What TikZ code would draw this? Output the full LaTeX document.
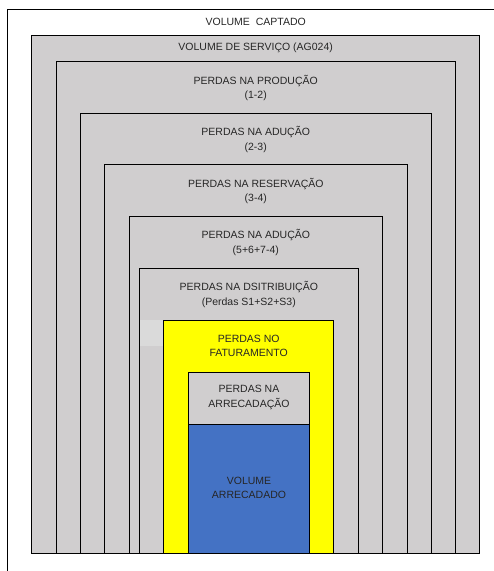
\documentclass[tikz,border=0pt]{standalone}
\usepackage{fontspec}
\setmainfont{Liberation Sans}
\definecolor{boxgray}{RGB}{208,206,207}
\definecolor{patchgray}{RGB}{218,218,218}
\definecolor{faturyellow}{RGB}{255,255,0}
\definecolor{arrecblue}{RGB}{68,114,196}
\tikzset{
	perda/.style={line width=1pt, draw=black, fill=boxgray},
	rotulo/.style={font=\fontsize{10.5}{14.5}\selectfont, align=center, text=black!85, inner sep=0pt},
}

\begin{document}
\begin{tikzpicture}[x=1pt, y=-1pt]
			%%%%% START %%%%%
			\useasboundingbox (0, 0) rectangle (494, 571);
			\fill[white] (0, 0) rectangle (494, 571);
			
			\draw[line width=1pt] (7.5, 571) -- (7.5, 9.5) -- (494, 9.5);
			
			\draw[perda] (31.7, 35.7) rectangle (479.7, 553);
			\draw[perda] (56.3, 61.7) rectangle (455.7, 553);
			\draw[perda] (80.3, 113.7) rectangle (431, 553);
			\draw[perda] (104.7, 164.7) rectangle (407, 553);
			\draw[perda] (129, 216) rectangle (382.7, 553);
			\draw[perda] (139.3, 268.7) rectangle (358.3, 553);
			
			\fill[patchgray] (139.9, 320.3) rectangle (163.7, 345.7);
			
			\draw[perda, fill=faturyellow] (163.7, 320.3) rectangle (333.7, 553);
			\draw[perda] (188.3, 372.3) rectangle (309.7, 553);
			\draw[perda, fill=arrecblue] (188.3, 424) rectangle (309.7, 553);
			
			\node[rotulo] (captado) at (255.7, 22) {VOLUME\ \ CAPTADO};
			\node[rotulo] (servico) at (255.7, 48) {VOLUME DE SERVIÇO (AG024)};
			\node[rotulo] (producao) at (255.7, 88) {PERDAS NA PRODUÇÃO\\(1-2)};
			\node[rotulo] (aducao) at (255.7, 139.5) {PERDAS NA ADUÇÃO\\(2-3)};
			\node[rotulo] (reservacao) at (255.8, 191) {PERDAS NA RESERVAÇÃO\\(3-4)};
			\node[rotulo] (subaducao) at (255.8, 242.5) {PERDAS NA ADUÇÃO\\(5+6+7-4)};
			\node[rotulo] (distribuicao) at (248.8, 294.5) {PERDAS NA DSITRIBUIÇÃO\\(Perdas S1+S2+S3)};
			\node[rotulo] (faturamento) at (248.7, 346) {PERDAS NO\\FATURAMENTO};
			\node[rotulo] (arrecadacao) at (249, 397.5) {PERDAS NA\\ARRECADAÇÃO};
			\node[rotulo] (arrecadado) at (249, 488) {VOLUME\\ARRECADADO};
			
			%%%%% END %%%%%
\end{tikzpicture}
\end{document}
